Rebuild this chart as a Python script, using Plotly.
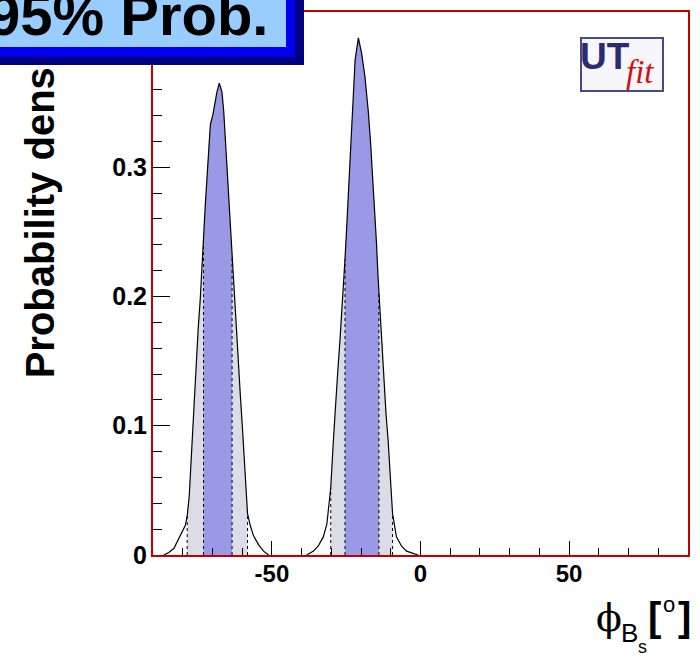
import plotly.graph_objects as go

# ---------------- data ----------------
peak1_x = [-86.4, -84.7, -83.0, -81.3, -80.2, -79.1, -78.5, -77.8, -77.2, -76.6, -76.1, -75.5,
           -74.8, -74.1, -73.5, -73.0, -72.4, -71.8, -71.3, -70.7, -69.9, -69.3, -68.5, -67.7,
           -66.8, -66.2, -65.7, -65.1, -64.6, -64.0, -63.4, -62.9, -62.1, -61.4, -60.6, -59.9,
           -59.2, -58.6, -58.2, -57.3, -56.2, -54.5, -52.8, -51.1]
peak1_y = [0.0, 0.002, 0.005, 0.013, 0.019, 0.023, 0.030, 0.046, 0.072, 0.098, 0.123, 0.149,
           0.175, 0.198, 0.220, 0.245, 0.271, 0.292, 0.315, 0.333, 0.340, 0.348, 0.358, 0.365,
           0.358, 0.343, 0.323, 0.302, 0.279, 0.256, 0.230, 0.207, 0.175, 0.149, 0.123, 0.098,
           0.072, 0.046, 0.032, 0.023, 0.015, 0.008, 0.003, 0.0]

peak2_x = [-38.3, -36.0, -34.4, -32.7, -31.5, -30.2, -29.3, -28.8, -27.9, -27.1, -26.0, -25.4,
           -24.8, -24.3, -23.7, -23.2, -22.6, -22.0, -20.9, -19.8, -18.7, -17.6, -16.8, -16.1,
           -15.3, -14.8, -14.3, -14.0, -13.1, -12.5, -11.6, -10.9, -10.3, -9.7, -9.4, -8.1,
           -6.4, -4.7, -1.9, -0.8]
peak2_y = [0.0, 0.003, 0.007, 0.014, 0.024, 0.052, 0.089, 0.109, 0.140, 0.166, 0.204, 0.229,
           0.255, 0.280, 0.306, 0.332, 0.357, 0.383, 0.400, 0.388, 0.370, 0.344, 0.319, 0.293,
           0.268, 0.241, 0.216, 0.204, 0.166, 0.140, 0.109, 0.089, 0.065, 0.045, 0.032, 0.014,
           0.007, 0.003, 0.001, 0.0]

# probability intervals (95% light, 68% dark)
p1_light = [-78.5, -58.2]
p1_dark = [-73.0, -63.4]
p2_light = [-30.2, -9.4]
p2_dark = [-25.4, -14.0]

x_tickvals = [-50, 0, 50]
x_ticktext = ['-50', '0', '50']
y_tickvals = [0, 0.1, 0.2, 0.3, 0.4]
y_ticktext = ['0', '0.1', '0.2', '0.3', '0.4']

# ---------------- style ----------------
W, H = 700, 660
L, R, T, B = 153, 11, 10, 105
PW, PH = W - L - R, H - T - B
LIGHT = '#dcdce8'
DARK = '#9999e6'
FRAME = '#c00000'
FONT = 'Liberation Sans, Arial, sans-serif'


def px(xp):
    return (xp - L) / PW


def py(yp):
    return (H - B - yp) / PH


fig = go.Figure()


def add_peak(xs, ys, light, dark):
    for (lo, hi), col in ((light, LIGHT), (dark, DARK)):
        sx = [x for x in xs if lo - 1e-9 <= x <= hi + 1e-9]
        sy = [y for x, y in zip(xs, ys) if lo - 1e-9 <= x <= hi + 1e-9]
        fig.add_trace(go.Scatter(x=sx, y=sy, mode='lines', fill='tozeroy',
                                 fillcolor=col, line=dict(width=0), hoverinfo='skip'))
    lx, ly = [], []
    for b in light + dark:
        i = xs.index(b)
        lx += [xs[i], xs[i], None]
        ly += [0, ys[i], None]
    fig.add_trace(go.Scatter(x=lx, y=ly, mode='lines',
                             line=dict(color='black', width=1, dash='dot'), hoverinfo='skip'))
    fig.add_trace(go.Scatter(x=xs, y=ys, mode='lines',
                             line=dict(color='black', width=1.2), hoverinfo='skip'))


add_peak(peak1_x, peak1_y, p1_light, p1_dark)
add_peak(peak2_x, peak2_y, p2_light, p2_dark)

fig.update_layout(
    width=W, height=H, margin=dict(l=L, r=R, t=T, b=B, pad=0),
    paper_bgcolor='white', plot_bgcolor='white', showlegend=False,
    font=dict(family=FONT, color='black'),
)
fig.update_xaxes(
    range=[-90, 90], tickvals=x_tickvals, ticktext=x_ticktext, ticks='inside', ticklen=14,
    tickwidth=1, tickcolor='black', showgrid=False, zeroline=False, showline=True,
    linecolor=FRAME, linewidth=2, mirror=True,
    tickfont=dict(size=24, family=FONT, weight='bold'), ticklabelstandoff=-4,
    minor=dict(dtick=10, tick0=0, ticks='inside', ticklen=7, tickcolor='black', showgrid=False),
)
fig.update_yaxes(
    range=[0, 0.42], tickvals=y_tickvals, ticktext=y_ticktext, ticks='inside', ticklen=17,
    tickwidth=1, tickcolor='black', showgrid=False, zeroline=False, showline=True,
    linecolor=FRAME, linewidth=2, mirror=True,
    tickfont=dict(size=25, family=FONT, weight='bold'), ticklabelstandoff=-1,
    minor=dict(dtick=0.02, tick0=0, ticks='inside', ticklen=9, tickcolor='black', showgrid=False),
)

ann = []
# y-axis title (partly covered by the box)
ann.append(dict(text='<b>Probability density</b>', textangle=-90, font=dict(size=40, family=FONT),
                x=px(40), xanchor='center', y=py(380), yanchor='bottom', showarrow=False))


def box(x0, y0, x1, y1, color):
    return dict(text=' ', x=px(x0), xanchor='left', y=py(y0), yanchor='top',
                width=x1 - x0, height=y1 - y0, bgcolor=color, borderwidth=0, borderpad=0,
                showarrow=False)


ann.append(box(-40, -40, 304, 63, '#000080'))
ann.append(box(-40, -40, 295, 55, '#0000ee'))
ann.append(box(-40, -40, 286, 45, '#99ccff'))
ann.append(dict(text='<b>95% Prob.</b>', font=dict(size=58, family=FONT), x=px(270),
                xanchor='right', y=py(13), yanchor='middle', showarrow=False))

# UTfit logo
ann.append(dict(text=' ', x=px(581), xanchor='left', y=py(35), yanchor='top', width=80, height=51,
                bgcolor='#f6f6fb', bordercolor='#4a4a80', borderwidth=2, borderpad=0,
                showarrow=False))
ann.append(dict(text='<b>UT</b>', font=dict(size=37, family=FONT, color='#2b2b70'),
                x=px(606), xanchor='center', y=py(55), yanchor='middle', showarrow=False))
ann.append(dict(text='<i>fit</i>', font=dict(size=33, family='Liberation Serif, serif', color='#d01010'),
                x=px(641), xanchor='center', y=py(70), yanchor='middle', showarrow=False))

# x-axis title  phi_{B_s} [o]
ann.append(dict(text='ϕ', font=dict(size=38, family='DejaVu Serif, serif'),
                x=px(610), xanchor='center', y=py(618), yanchor='middle', showarrow=False))
ann.append(dict(text='B', font=dict(size=26, family=FONT),
                x=px(630), xanchor='center', y=py(633), yanchor='middle', showarrow=False))
ann.append(dict(text='s', font=dict(size=18, family=FONT),
                x=px(643), xanchor='center', y=py(647), yanchor='middle', showarrow=False))
ann.append(dict(text='<b>[</b>', font=dict(size=40, family=FONT),
                x=px(655), xanchor='center', y=py(617), yanchor='middle', showarrow=False))
ann.append(dict(text='o', font=dict(size=22, family=FONT),
                x=px(670), xanchor='center', y=py(605), yanchor='middle', showarrow=False))
ann.append(dict(text='<b>]</b>', font=dict(size=40, family=FONT),
                x=px(685), xanchor='center', y=py(617), yanchor='middle', showarrow=False))

for a in ann:
    a.setdefault('xref', 'paper')
    a.setdefault('yref', 'paper')
fig.update_layout(annotations=ann)

fig.write_html('out.html', config={'displayModeBar': False},
               post_script="document.body.style.margin='0';")
